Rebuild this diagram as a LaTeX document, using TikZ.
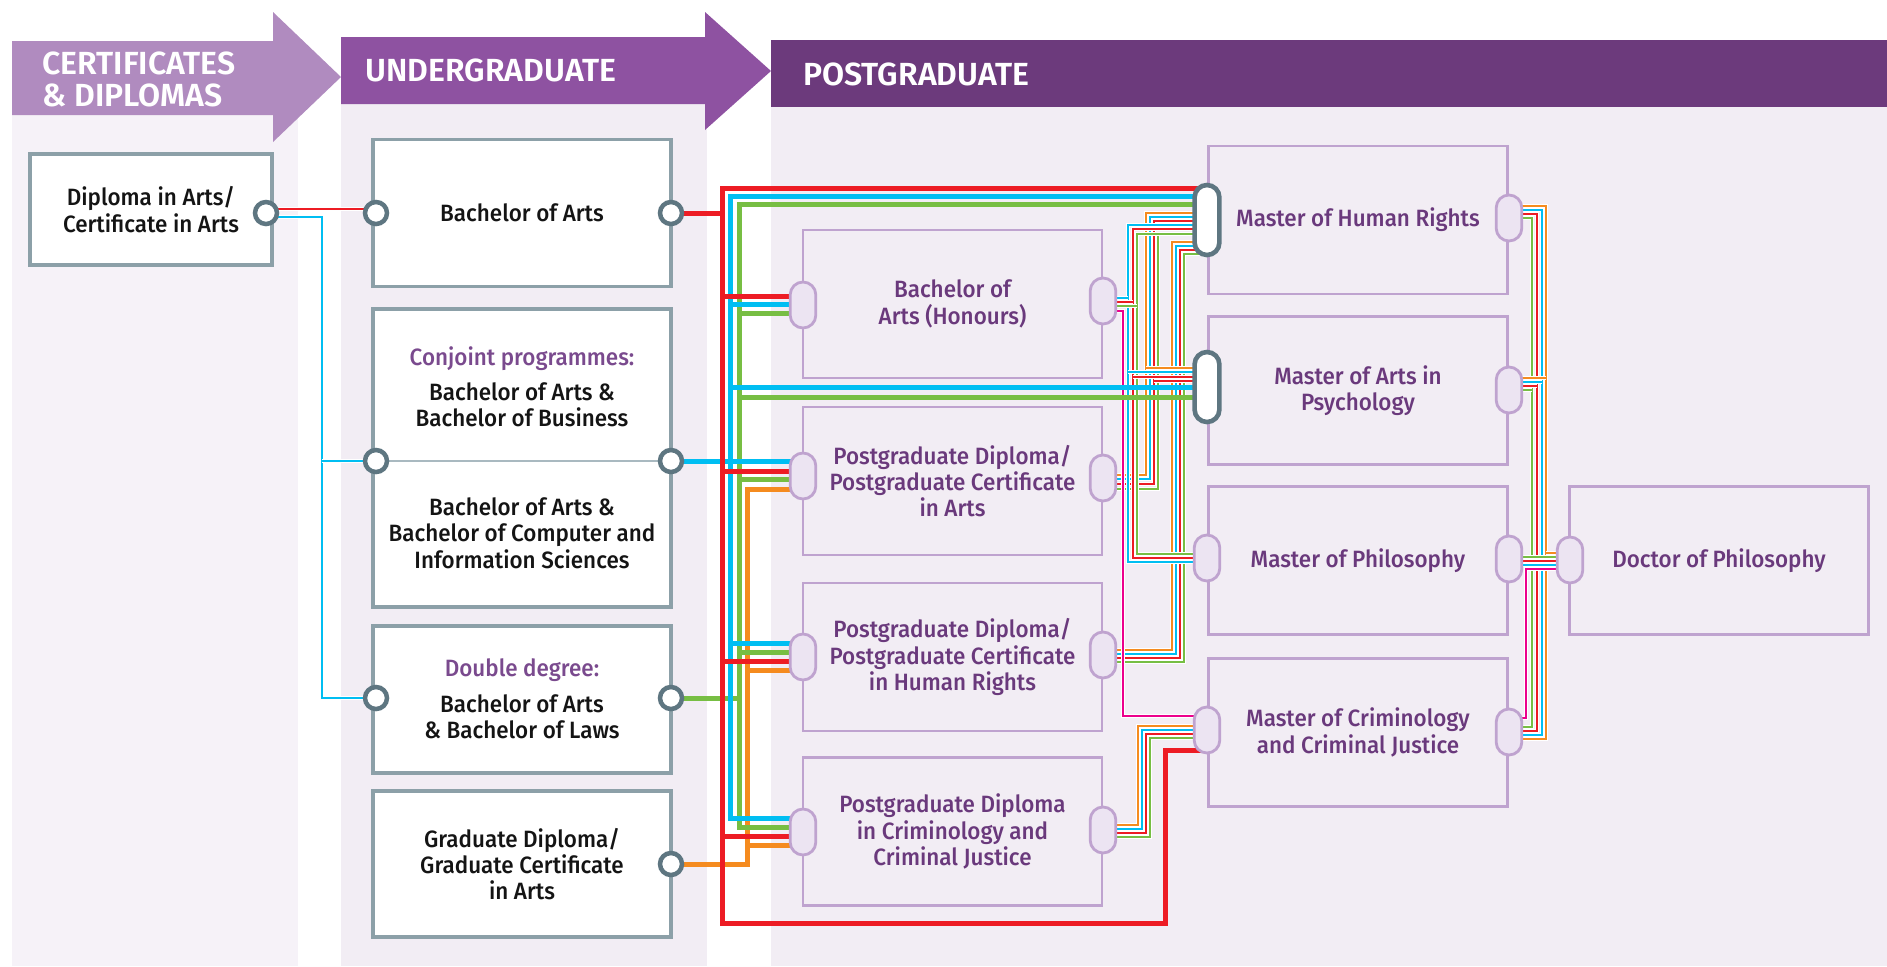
\documentclass[tikz,border=0pt]{standalone}
\usepackage{fontspec}
\setmainfont{Fira Sans}
\IfFontExistsTF{Fira Sans Medium}{\newfontfamily\boxfont{Fira Sans Medium}[FakeStretch=0.95]}{\newfontfamily\boxfont{Fira Sans}[FakeStretch=0.95]}
\IfFontExistsTF{Fira Sans SemiBold}{\newfontfamily\hdrfont{Fira Sans SemiBold}}{\newcommand\hdrfont{\bfseries}}
\pgfdeclarelayer{bg}
\pgfdeclarelayer{ln}
\pgfsetlayers{bg,ln,main}
\definecolor{cred}{HTML}{ED1C24}
\definecolor{ccyan}{HTML}{00BEF2}
\definecolor{cgreen}{HTML}{77BE43}
\definecolor{corange}{HTML}{F58B1F}
\definecolor{cmag}{HTML}{EC008C}
\definecolor{ugborder}{HTML}{8CA0A8}
\definecolor{portring}{HTML}{5E7681}
\definecolor{lav}{HTML}{BFA3CF}
\definecolor{pillfill}{HTML}{ECE4F2}
\definecolor{bgcert}{HTML}{F6F2F8}
\definecolor{bgug}{HTML}{F2EDF4}
\definecolor{bgpg}{HTML}{F2EDF4}
\definecolor{bancert}{HTML}{B08BBF}
\definecolor{banug}{HTML}{8E52A1}
\definecolor{banpg}{HTML}{6C3A7C}
\definecolor{ptext}{HTML}{6A397C}
\definecolor{ptextb}{HTML}{7A4A8E}
\definecolor{divider}{HTML}{A9B9C0}
\definecolor{txt}{HTML}{141414}
\tikzset{
  btxt/.style={font=\boxfont\fontsize{11.8}{13.2}\selectfont, align=center, inner sep=0pt},
  ugbox/.style={rectangle, draw=ugborder, line width=1.75pt, fill=white, inner sep=0pt, btxt, text=txt},
  pgbox/.style={rectangle, draw=lav, line width=1.4pt, fill=bgpg, inner sep=0pt, btxt, text=ptext, minimum width=149.5pt, minimum height=74pt},
  uport/.style={circle, draw=portring, fill=white, line width=2.25pt, minimum size=11pt, inner sep=0pt},
  pill/.style={rectangle, rounded corners=6.4pt, draw=lav, fill=pillfill, line width=1.4pt, minimum width=12.8pt, minimum height=23pt, inner sep=0pt},
  dpill/.style={rectangle, rounded corners=6.2pt, draw=portring, fill=white, line width=2.3pt, minimum width=12.4pt, minimum height=35pt, inner sep=0pt},
  hdr/.style={font=\hdrfont\fontsize{16}{16}\selectfont, text=white, inner sep=0pt, align=left, anchor=west},
  tk/.style={line width=2.5pt},
  th/.style={line width=1.35pt, preaction={draw=white, line width=2.05pt}},
}
\begin{document}
\begin{tikzpicture}[x=0.5pt, y=-0.5pt]
\useasboundingbox (0,0) rectangle (1887,966);
\begin{pgfonlayer}{bg}
% column backgrounds
\fill[bgcert] (12,115) rectangle (298,966);
\fill[bgug] (341,104) rectangle (707,966);
\fill[bgpg] (771,107) rectangle (1887,966);
% banners
\fill[bancert] (12,41) -- (273,41) -- (273,12) -- (341,77) -- (273,142) -- (273,115) -- (12,115) -- cycle;
\fill[banug] (341,37) -- (705,37) -- (705,12) -- (771,71) -- (705,130) -- (705,104) -- (341,104) -- cycle;
\fill[banpg] (771,40) rectangle (1887,107);
\node[hdr] (hcert) at (42,79) {CERTIFICATES\\\& DIPLOMAS};
\node[hdr] (hug) at (365,70) {UNDERGRADUATE};
\node[hdr] (hpg) at (803,74) {POSTGRADUATE};
% undergraduate boxes
\node[ugbox, minimum width=121pt, minimum height=55.5pt] (dip) at (151,209.5) {Diploma in Arts/\\Certificate in Arts};
\node[ugbox, minimum width=149pt, minimum height=73.5pt] (ba) at (522,213) {Bachelor of Arts};
\node[ugbox, minimum width=149pt, minimum height=149pt] (conj) at (522,458) {};
\draw[divider, line width=0.6pt] (conj.west |- 0,461) -- (conj.east |- 0,461);
\node[btxt, text=ptextb] (conjT) at (522,359) {Conjoint programmes:};
\node[btxt, text=txt] (conjA) at (522,405) {Bachelor of Arts \&\\Bachelor of Business};
\node[btxt, text=txt] (conjB) at (522,533) {Bachelor of Arts \&\\Bachelor of Computer and\\Information Sciences};
\node[ugbox, minimum width=149pt, minimum height=73.5pt] (dbl) at (522,699.5) {};
\node[btxt, text=ptextb] (dblT) at (522,670) {Double degree:};
\node[btxt, text=txt] (dblA) at (522,717) {Bachelor of Arts\\\& Bachelor of Laws};
\node[ugbox, minimum width=149pt, minimum height=73pt] (gd) at (522,864) {Graduate Diploma/\\Graduate Certificate\\in Arts};
% postgraduate boxes
\node[pgbox] (bah) at (952.5,304) {Bachelor of\\Arts (Honours)};
\node[pgbox] (pgda) at (952.5,481) {Postgraduate Diploma/\\Postgraduate Certificate\\in Arts};
\node[pgbox] (pgdhr) at (952.5,657) {Postgraduate Diploma/\\Postgraduate Certificate\\in Human Rights};
\node[pgbox] (pgdc) at (952.5,831.5) {Postgraduate Diploma\\in Criminology and\\Criminal Justice};
\node[pgbox] (mhr) at (1358,220) {Master of Human Rights};
\node[pgbox] (map) at (1358,390.5) {Master of Arts in\\Psychology};
\node[pgbox] (mphil) at (1358,560.5) {Master of Philosophy};
\node[pgbox] (mcrim) at (1358,732.5) {Master of Criminology\\and Criminal Justice};
\node[pgbox] (phd) at (1719,560.5) {Doctor of Philosophy};
\end{pgfonlayer}
% ports
\node[uport] (dipR) at (266,213) {};
\node[uport] (baL) at (376,213) {};
\node[uport] (baR) at (671,213) {};
\node[uport] (conjL) at (376,461) {};
\node[uport] (conjR) at (671,461) {};
\node[uport] (dblL) at (376,698) {};
\node[uport] (dblR) at (671,698) {};
\node[uport] (gdR) at (671,864) {};
\node[pill] (bahL) at (803,305) {};
\node[pill] (bahR) at (1103,301) {};
\node[pill] (pgdaL) at (803,476) {};
\node[pill] (pgdaR) at (1103,478) {};
\node[pill] (pgdhrL) at (803,657) {};
\node[pill] (pgdhrR) at (1103,655) {};
\node[pill] (pgdcL) at (803,832) {};
\node[pill] (pgdcR) at (1103,830) {};
\node[dpill] (mhrL) at (1207,220) {};
\node[pill] (mhrR) at (1509,218) {};
\node[dpill] (mapL) at (1207,387) {};
\node[pill] (mapR) at (1509,390) {};
\node[pill] (mphilL) at (1207,558) {};
\node[pill] (mphilR) at (1509,559) {};
\node[pill] (mcrimL) at (1207,730) {};
\node[pill] (mcrimR) at (1509,732) {};
\node[pill] (phdL) at (1570,560) {};
\begin{pgfonlayer}{ln}
% diploma links
\draw[th,cred] (dipR.center |- 0,209) -- (baL.center |- 0,209);
\draw[th,ccyan] (dipR.center |- 0,217) -- (322,217) -- (322,698) -- (dblL.center |- 0,698);
\draw[th,ccyan] (322,461) -- (conjL.center);
% PGDip Human Rights bundle
\draw[th,corange] (pgdhrR.center |- 0,650) -- (1172,650) -- (1172,242) -- (mhrL.center |- 0,242);
\draw[th,ccyan] (pgdhrR.center |- 0,654) -- (1176,654) -- (1176,246) -- (mhrL.center |- 0,246);
\draw[th,cred] (pgdhrR.center |- 0,658) -- (1180,658) -- (1180,250) -- (mhrL.center |- 0,250);
\draw[th,cgreen] (pgdhrR.center |- 0,662) -- (1184,662) -- (1184,254) -- (mhrL.center |- 0,254);
% PGDip Arts bundle
\draw[th,corange] (pgdaR.center |- 0,475) -- (1146,475) -- (1146,213) -- (mhrL.center |- 0,213);
\draw[th,ccyan] (pgdaR.center |- 0,479) -- (1150,479) -- (1150,217) -- (mhrL.center |- 0,217);
\draw[th,cred] (pgdaR.center |- 0,484) -- (1154,484) -- (1154,221) -- (mhrL.center |- 0,221);
\draw[th,cgreen] (pgdaR.center |- 0,489) -- (1158,489) -- (1158,234) -- (mhrL.center |- 0,234);
% BA Honours bundle
\draw[th,cmag] (bahR.center |- 0,311) -- (1123,311) -- (1123,716) -- (mcrimL.center |- 0,716);
\draw[th,ccyan] (mhrL.center |- 0,225) -- (1128,225) -- (1128,562) -- (mphilL.center |- 0,562);
\draw[th,cred] (mhrL.center |- 0,229) -- (1133,229) -- (1133,558) -- (mphilL.center |- 0,558);
\draw[th,cgreen] (mhrL.center |- 0,234) -- (1137,234) -- (1137,554) -- (mphilL.center |- 0,554);
\draw[th,ccyan] (bahR.center |- 0,298) -- (1128,298);
\draw[th,cred] (bahR.center |- 0,302) -- (1133,302);
\draw[th,cgreen] (bahR.center |- 0,306) -- (1137,306);
% branches into MA Psychology
\draw[th,corange] (1146,368) -- (mapL.center |- 0,368);
\draw[th,ccyan] (1128,372) -- (mapL.center |- 0,372);
\draw[th,cred] (1133,377) -- (mapL.center |- 0,377);
\draw[th,cred] (1154,381) -- (mapL.center |- 0,381);
% PGDip Criminology bundle
\draw[th,corange] (pgdcR.center |- 0,825) -- (1138,825) -- (1138,726) -- (mcrimL.center |- 0,726);
\draw[th,ccyan] (pgdcR.center |- 0,829) -- (1142,829) -- (1142,730) -- (mcrimL.center |- 0,730);
\draw[th,cred] (pgdcR.center |- 0,833) -- (1146,833) -- (1146,734) -- (mcrimL.center |- 0,734);
\draw[th,cgreen] (pgdcR.center |- 0,837) -- (1150,837) -- (1150,738) -- (mcrimL.center |- 0,738);
% masters to doctorate bundle
\draw[th,cgreen] (mhrR.center |- 0,218) -- (1532,218) -- (1532,727) -- (mcrimR.center |- 0,727);
\draw[th,cred] (mhrR.center |- 0,214) -- (1537,214) -- (1537,731) -- (mcrimR.center |- 0,731);
\draw[th,ccyan] (mhrR.center |- 0,210) -- (1542,210) -- (1542,735) -- (mcrimR.center |- 0,735);
\draw[th,corange] (mhrR.center |- 0,206) -- (1546,206) -- (1546,739) -- (mcrimR.center |- 0,739);
\draw[th,corange] (mapR.center |- 0,378) -- (1546,378);
\draw[th,ccyan] (mapR.center |- 0,382) -- (1542,382);
\draw[th,cred] (mapR.center |- 0,386) -- (1537,386);
\draw[th,cgreen] (mapR.center |- 0,390) -- (1532,390);
\draw[th,corange] (1546,553) -- (phdL.center |- 0,553);
\draw[th,cgreen] (mphilR.center |- 0,557) -- (phdL.center |- 0,557);
\draw[th,cred] (mphilR.center |- 0,561) -- (phdL.center |- 0,561);
\draw[th,ccyan] (mphilR.center |- 0,565) -- (phdL.center |- 0,565);
\draw[th,cmag] (mcrimR.center |- 0,718) -- (1526,718) -- (1526,569) -- (phdL.center |- 0,569);
% thick trunks from undergraduate
\draw[tk,corange] (gdR.center) -- (747,864) -- (747,489) -- (pgdaL.center |- 0,489);
\draw[tk,corange] (747,670) -- (pgdhrL.center |- 0,670);
\draw[tk,corange] (747,845) -- (pgdcL.center |- 0,845);
\draw[tk,cgreen] (mhrL.center |- 0,204) -- (739,204) -- (739,827) -- (pgdcL.center |- 0,827);
\draw[tk,cgreen] (dblR.center) -- (739,698);
\draw[tk,cgreen] (739,313) -- (bahL.center |- 0,313);
\draw[tk,cgreen] (739,397) -- (mapL.center |- 0,397);
\draw[tk,cgreen] (739,479) -- (pgdaL.center |- 0,479);
\draw[tk,cgreen] (739,652) -- (pgdhrL.center |- 0,652);
\draw[tk,ccyan] (mhrL.center |- 0,196) -- (730,196) -- (730,818) -- (pgdcL.center |- 0,818);
\draw[tk,ccyan] (conjR.center) -- (conjR.center -| pgdaL.center);
\draw[tk,ccyan] (730,304) -- (bahL.center |- 0,304);
\draw[tk,ccyan] (730,387) -- (mapL.center);
\draw[tk,ccyan] (730,643) -- (pgdhrL.center |- 0,643);
\draw[tk,cred] (mhrL.center |- 0,188) -- (722,188) -- (722,923) -- (1165,923) -- (1165,750) -- (mcrimL.center |- 0,750);
\draw[tk,cred] (baR.center) -- (722,213);
\draw[tk,cred] (722,296) -- (bahL.center |- 0,296);
\draw[tk,cred] (722,471) -- (pgdaL.center |- 0,471);
\draw[tk,cred] (722,661) -- (pgdhrL.center |- 0,661);
\draw[tk,cred] (722,836) -- (pgdcL.center |- 0,836);
\end{pgfonlayer}
\end{tikzpicture}
\end{document}
